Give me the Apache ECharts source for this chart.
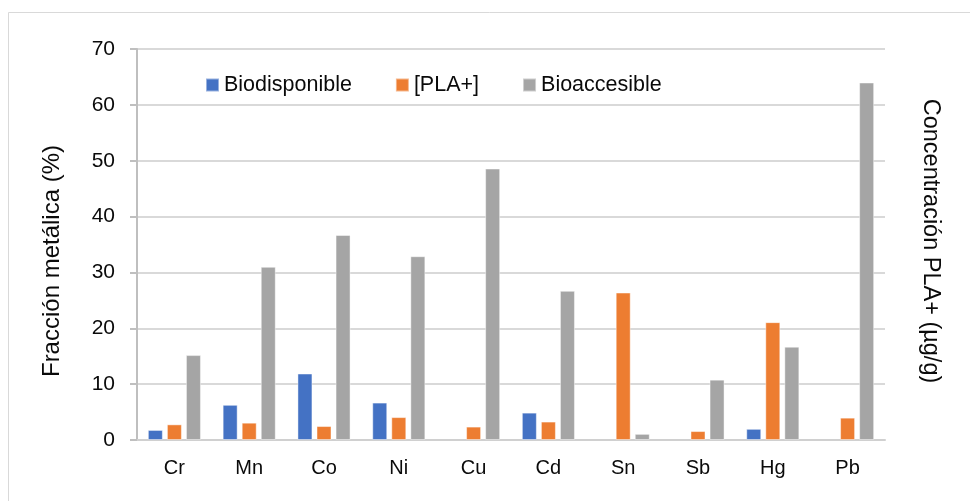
<!DOCTYPE html>
<html>
<head>
<meta charset="utf-8">
<script src="https://cdn.jsdelivr.net/npm/echarts@6/dist/echarts.min.js"></script>
<style>html,body{margin:0;padding:0;background:#fff;}#c{width:970px;height:501px;}</style>
</head>
<body>
<div id="c"></div>
<script>
const categories = ['Cr', 'Mn', 'Co', 'Ni', 'Cu', 'Cd', 'Sn', 'Sb', 'Hg', 'Pb'];
const biodisponible = [1.8, 6.3, 11.9, 6.7, null, 4.9, null, null, 2.0, null];
const pla = [2.8, 3.1, 2.5, 4.1, 2.4, 3.3, 26.4, 1.6, 21.1, 4.0];
const bioaccesible = [15.2, 31.0, 36.7, 32.9, 48.6, 26.7, 1.1, 10.8, 16.7, 64.0];
const yTicks = [0, 10, 20, 30, 40, 50, 60, 70];
const seriesNames = ['Biodisponible', '[PLA+]', 'Bioaccesible'];
const leftTitle = 'Fracción metálica (%)';
const rightTitle = 'Concentración PLA+ (µg/g)';

const FONT = '"Liberation Sans", Arial, sans-serif';
const chart = echarts.init(document.getElementById('c'), null, {renderer: 'canvas'});
const barStyle = (c) => ({color: c, borderColor: 'rgba(255,255,255,0.45)', borderWidth: 1});
chart.setOption({
  animation: false,
  backgroundColor: '#fff',
  textStyle: {fontFamily: FONT},
  grid: {left: 137, right: 85, top: 49, bottom: 61, containLabel: false},
  legend: {
    left: 205, top: 74, padding: 0, itemGap: 43, itemWidth: 13, itemHeight: 13,
    icon: 'rect',
    textStyle: {fontSize: 21.5, color: '#0a0a0a', fontFamily: FONT},
    data: seriesNames
  },
  xAxis: {
    type: 'category', data: categories,
    axisLine: {show: true, lineStyle: {color: '#D0D0D0', width: 2}},
    axisTick: {show: false},
    axisLabel: {fontSize: 20, color: '#0a0a0a', margin: 18, fontFamily: FONT}
  },
  yAxis: {
    type: 'value', min: yTicks[0], max: yTicks[yTicks.length - 1], interval: 10,
    axisLine: {show: true, lineStyle: {color: '#BFBFBF', width: 2}},
    axisTick: {show: true, length: 7, lineStyle: {color: '#BFBFBF', width: 2}},
    axisLabel: {fontSize: 21, color: '#0a0a0a', margin: 22, fontFamily: FONT},
    splitLine: {show: true, lineStyle: {color: '#D9D9D9', width: 2}}
  },
  series: [
    {name: seriesNames[0], type: 'bar', data: biodisponible, barWidth: 15, barGap: '27%', itemStyle: barStyle('#4472C4')},
    {name: seriesNames[1], type: 'bar', data: pla, barWidth: 15, barGap: '27%', itemStyle: barStyle('#ED7D31')},
    {name: seriesNames[2], type: 'bar', data: bioaccesible, barWidth: 15, barGap: '27%', itemStyle: barStyle('#A5A5A5')}
  ],
  graphic: [
    {type: 'rect', silent: true, z: -10, shape: {x: 8.5, y: 12.5, width: 1100, height: 1100},
     style: {fill: 'none', stroke: '#D9D9D9', lineWidth: 1}},
    {type: 'text', x: 52, y: 261, rotation: Math.PI / 2,
     style: {text: leftTitle, fontSize: 24, fontFamily: FONT, fill: '#0a0a0a', align: 'center', verticalAlign: 'middle'}},
    {type: 'text', x: 930, y: 241, rotation: -Math.PI / 2,
     style: {text: rightTitle, fontSize: 23.5, fontFamily: FONT, fill: '#0a0a0a', align: 'center', verticalAlign: 'middle'}}
  ]
});
</script>
</body>
</html>
